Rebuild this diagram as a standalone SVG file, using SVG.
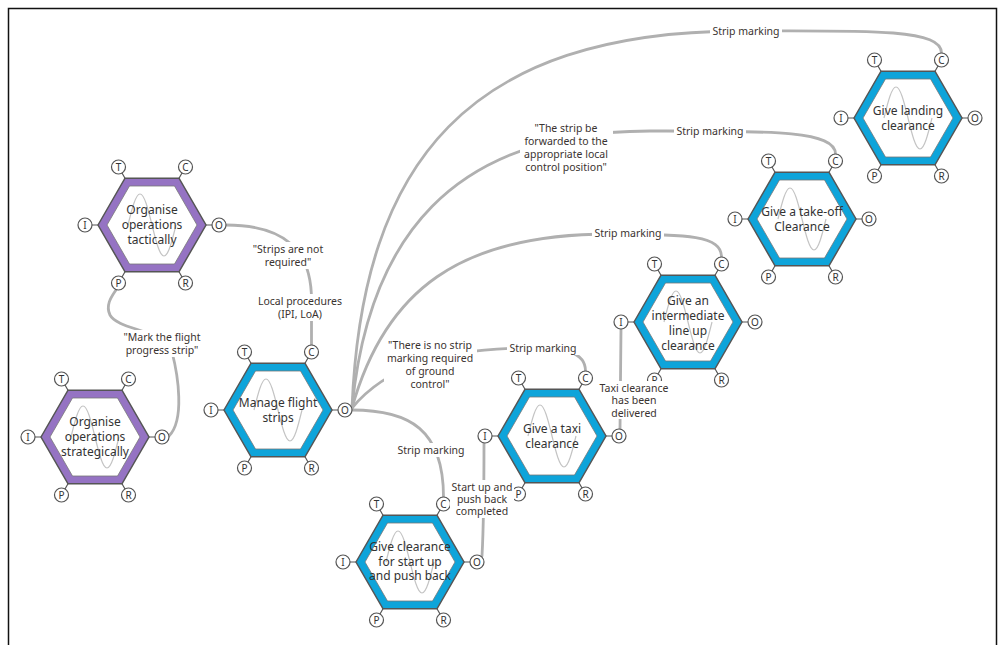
<svg xmlns="http://www.w3.org/2000/svg" xmlns:xlink="http://www.w3.org/1999/xlink" width="998" height="645" viewBox="0 0 998 645">
<style>
.conn{fill:none;stroke:#b0b0b0;stroke-width:2.8;stroke-linecap:round}
.ntext{font-family:"Noto Sans","DejaVu Sans",sans-serif;font-size:12px;fill:#333;text-anchor:middle}
.ltext{font-family:"Noto Sans","DejaVu Sans",sans-serif;font-size:10.5px;fill:#3a3330;text-anchor:middle}
.lbg{fill:#fff}
.port circle{fill:#fff;stroke:#555;stroke-width:1.2}
.port text{font-family:"Noto Sans","DejaVu Sans",sans-serif;font-size:10px;fill:#333;text-anchor:middle}
.tick{stroke:#555;stroke-width:1.2}
</style>
<defs>
<g id="core">
<polygon points="-45,0 -22.5,-39 22.5,-39 45,0 22.5,39 -22.5,39" fill="#fff" stroke="#777" stroke-width="0.8"/>
<path d="M-24,0 C-20.09,-15.9 -16.34,-31 -12,-31 C-7.66,-31 -3.91,-15.9 0,0 C3.91,15.9 7.66,31 12,31 C16.34,31 20.09,15.9 24,0" fill="none" stroke="#c4c4c4" stroke-width="1.2"/>
<path class="tick" d="M-27,-46.8 L-30,-52 M27,-46.8 L30,-52 M-54,0 L-60,0 M54,0 L60,0 M-27,46.8 L-30,52 M27,46.8 L30,52"/>
</g>
<g id="hexP">
<polygon points="-54,0 -27,-46.8 27,-46.8 54,0 27,46.8 -27,46.8" fill="#9573c3" stroke="#555" stroke-width="1.5"/>
<use xlink:href="#core"/>
</g>
<g id="hexB">
<polygon points="-54,0 -27,-46.8 27,-46.8 54,0 27,46.8 -27,46.8" fill="#0ea4da" stroke="#555" stroke-width="1.5"/>
<use xlink:href="#core"/>
</g>
</defs>
<rect width="998" height="645" fill="#fff"/>
<path d="M8.5,645 V8.5 H996.5 V645" fill="none" stroke="#111" stroke-width="1.5"/>

<g id="connectors">
<path class="conn" d="M226,225 C285,225 311.5,250 311.5,300 L311.5,345"/>
<path class="conn" d="M169,436 C185,420 178,375 172,352 C165,330 118,330 110,315 C105,305 112,296 116,290"/>
<path class="conn" d="M352,408 C362,160 470,32 740,31 C880,30 941.5,30 941.5,53"/>
<path class="conn" d="M352,408 C368,240 450,131 650,131 C770,131 835.5,130 835.5,154"/>
<path class="conn" d="M352,408 C385,290 460,234 610,234 C690,234 721.5,236 721.5,257"/>
<path class="conn" d="M352,408 C385,368 440,348 530,348 C565,348 585.5,352 585.5,371"/>
<path class="conn" d="M352,410 C410,410 443.5,430 443.5,497"/>
<path class="conn" d="M482,556 C484,520 484,470 484,443"/>
<path class="conn" d="M620,429 L621,329"/>
</g>

<g id="n1" transform="translate(152,225)">
<use xlink:href="#hexP"/>
<text class="ntext"><tspan x="0" y="-11">Organise</tspan><tspan x="0" y="4">operations</tspan><tspan x="0" y="19">tactically</tspan></text>
<g class="port"><circle cx="-33.5" cy="-58" r="7"/><text x="-33.5" y="-54.5">T</text><circle cx="33.5" cy="-58" r="7"/><text x="33.5" y="-54.5">C</text><circle cx="-67" cy="0" r="7"/><text x="-67" y="3.5">I</text><circle cx="67" cy="0" r="7"/><text x="67" y="3.5">O</text><circle cx="-33.5" cy="58" r="7"/><text x="-33.5" y="61.5">P</text><circle cx="33.5" cy="58" r="7"/><text x="33.5" y="61.5">R</text></g>
</g>

<g id="n2" transform="translate(95,437)">
<use xlink:href="#hexP"/>
<text class="ntext"><tspan x="0" y="-11">Organise</tspan><tspan x="0" y="4">operations</tspan><tspan x="0" y="19">strategically</tspan></text>
<g class="port"><circle cx="-33.5" cy="-58" r="7"/><text x="-33.5" y="-54.5">T</text><circle cx="33.5" cy="-58" r="7"/><text x="33.5" y="-54.5">C</text><circle cx="-67" cy="0" r="7"/><text x="-67" y="3.5">I</text><circle cx="67" cy="0" r="7"/><text x="67" y="3.5">O</text><circle cx="-33.5" cy="58" r="7"/><text x="-33.5" y="61.5">P</text><circle cx="33.5" cy="58" r="7"/><text x="33.5" y="61.5">R</text></g>
</g>

<g id="n3" transform="translate(278,410)">
<use xlink:href="#hexB"/>
<text class="ntext"><tspan x="0" y="-3">Manage flight</tspan><tspan x="0" y="12">strips</tspan></text>
<g class="port"><circle cx="-33.5" cy="-58" r="7"/><text x="-33.5" y="-54.5">T</text><circle cx="33.5" cy="-58" r="7"/><text x="33.5" y="-54.5">C</text><circle cx="-67" cy="0" r="7"/><text x="-67" y="3.5">I</text><circle cx="67" cy="0" r="7"/><text x="67" y="3.5">O</text><circle cx="-33.5" cy="58" r="7"/><text x="-33.5" y="61.5">P</text><circle cx="33.5" cy="58" r="7"/><text x="33.5" y="61.5">R</text></g>
</g>

<g id="n4" transform="translate(410,562)">
<use xlink:href="#hexB"/>
<text class="ntext"><tspan x="0" y="-11">Give clearance</tspan><tspan x="0" y="4">for start up</tspan><tspan x="0" y="18">and push back</tspan></text>
<g class="port"><circle cx="-33.5" cy="-58" r="7"/><text x="-33.5" y="-54.5">T</text><circle cx="33.5" cy="-58" r="7"/><text x="33.5" y="-54.5">C</text><circle cx="-67" cy="0" r="7"/><text x="-67" y="3.5">I</text><circle cx="67" cy="0" r="7"/><text x="67" y="3.5">O</text><circle cx="-33.5" cy="58" r="7"/><text x="-33.5" y="61.5">P</text><circle cx="33.5" cy="58" r="7"/><text x="33.5" y="61.5">R</text></g>
</g>

<g id="n5" transform="translate(552,436)">
<use xlink:href="#hexB"/>
<text class="ntext"><tspan x="0" y="-3">Give a taxi</tspan><tspan x="0" y="12">clearance</tspan></text>
<g class="port"><circle cx="-33.5" cy="-58" r="7"/><text x="-33.5" y="-54.5">T</text><circle cx="33.5" cy="-58" r="7"/><text x="33.5" y="-54.5">C</text><circle cx="-67" cy="0" r="7"/><text x="-67" y="3.5">I</text><circle cx="67" cy="0" r="7"/><text x="67" y="3.5">O</text><circle cx="-33.5" cy="58" r="7"/><text x="-33.5" y="61.5">P</text><circle cx="33.5" cy="58" r="7"/><text x="33.5" y="61.5">R</text></g>
</g>

<g id="n6" transform="translate(688,322)">
<use xlink:href="#hexB"/>
<text class="ntext"><tspan x="0" y="-17">Give an</tspan><tspan x="0" y="-2">intermediate</tspan><tspan x="0" y="13">line up</tspan><tspan x="0" y="28">clearance</tspan></text>
<g class="port"><circle cx="-33.5" cy="-58" r="7"/><text x="-33.5" y="-54.5">T</text><circle cx="33.5" cy="-58" r="7"/><text x="33.5" y="-54.5">C</text><circle cx="-67" cy="0" r="7"/><text x="-67" y="3.5">I</text><circle cx="67" cy="0" r="7"/><text x="67" y="3.5">O</text><circle cx="-33.5" cy="58" r="7"/><text x="-33.5" y="61.5">P</text><circle cx="33.5" cy="58" r="7"/><text x="33.5" y="61.5">R</text></g>
</g>

<g id="n7" transform="translate(802,219)">
<use xlink:href="#hexB"/>
<text class="ntext"><tspan x="0" y="-3">Give a take-off</tspan><tspan x="0" y="12">Clearance</tspan></text>
<g class="port"><circle cx="-33.5" cy="-58" r="7"/><text x="-33.5" y="-54.5">T</text><circle cx="33.5" cy="-58" r="7"/><text x="33.5" y="-54.5">C</text><circle cx="-67" cy="0" r="7"/><text x="-67" y="3.5">I</text><circle cx="67" cy="0" r="7"/><text x="67" y="3.5">O</text><circle cx="-33.5" cy="58" r="7"/><text x="-33.5" y="61.5">P</text><circle cx="33.5" cy="58" r="7"/><text x="33.5" y="61.5">R</text></g>
</g>

<g id="n8" transform="translate(908,118)">
<use xlink:href="#hexB"/>
<text class="ntext"><tspan x="0" y="-3">Give landing</tspan><tspan x="0" y="12">clearance</tspan></text>
<g class="port"><circle cx="-33.5" cy="-58" r="7"/><text x="-33.5" y="-54.5">T</text><circle cx="33.5" cy="-58" r="7"/><text x="33.5" y="-54.5">C</text><circle cx="-67" cy="0" r="7"/><text x="-67" y="3.5">I</text><circle cx="67" cy="0" r="7"/><text x="67" y="3.5">O</text><circle cx="-33.5" cy="58" r="7"/><text x="-33.5" y="61.5">P</text><circle cx="33.5" cy="58" r="7"/><text x="33.5" y="61.5">R</text></g>
</g>

<g id="labels">
<rect class="lbg" x="710" y="24" width="72" height="14"/>
<text class="ltext" x="746" y="34.5">Strip marking</text>
<rect class="lbg" x="674" y="124" width="72" height="14"/>
<text class="ltext" x="710" y="134.5">Strip marking</text>
<rect class="lbg" x="520" y="121" width="93" height="52"/>
<text class="ltext"><tspan x="566" y="131.5">"The strip be</tspan><tspan x="566" y="144.5">forwarded to the</tspan><tspan x="566" y="157.5">appropriate local</tspan><tspan x="566" y="170.5">control position"</tspan></text>
<rect class="lbg" x="592" y="226" width="72" height="14"/>
<text class="ltext" x="628" y="236.5">Strip marking</text>
<rect class="lbg" x="507" y="341" width="72" height="14"/>
<text class="ltext" x="543" y="351.5">Strip marking</text>
<rect class="lbg" x="384" y="338" width="93" height="52"/>
<text class="ltext"><tspan x="430" y="348.5">"There is no strip</tspan><tspan x="430" y="361.5">marking required</tspan><tspan x="430" y="374.5">of ground</tspan><tspan x="430" y="387.5">control"</tspan></text>
<rect class="lbg" x="395" y="443" width="72" height="14"/>
<text class="ltext" x="431" y="453.5">Strip marking</text>
<rect class="lbg" x="450" y="480" width="64" height="38"/>
<text class="ltext"><tspan x="482" y="490.5">Start up and</tspan><tspan x="482" y="502.5">push back</tspan><tspan x="482" y="514.5">completed</tspan></text>
<rect class="lbg" x="597" y="381" width="74" height="38"/>
<text class="ltext"><tspan x="634" y="391.5">Taxi clearance</tspan><tspan x="634" y="403.5">has been</tspan><tspan x="634" y="416.5">delivered</tspan></text>
<rect class="lbg" x="250" y="242" width="76" height="27"/>
<text class="ltext"><tspan x="288" y="252.5">"Strips are not</tspan><tspan x="288" y="265.5">required"</tspan></text>
<rect class="lbg" x="254" y="294" width="92" height="27"/>
<text class="ltext"><tspan x="300" y="304.5">Local procedures</tspan><tspan x="300" y="317.5">(IPI, LoA)</tspan></text>
<rect class="lbg" x="119" y="330" width="86" height="27"/>
<text class="ltext"><tspan x="162" y="340.5">"Mark the flight</tspan><tspan x="162" y="353.5">progress strip"</tspan></text>
</g>
</svg>
